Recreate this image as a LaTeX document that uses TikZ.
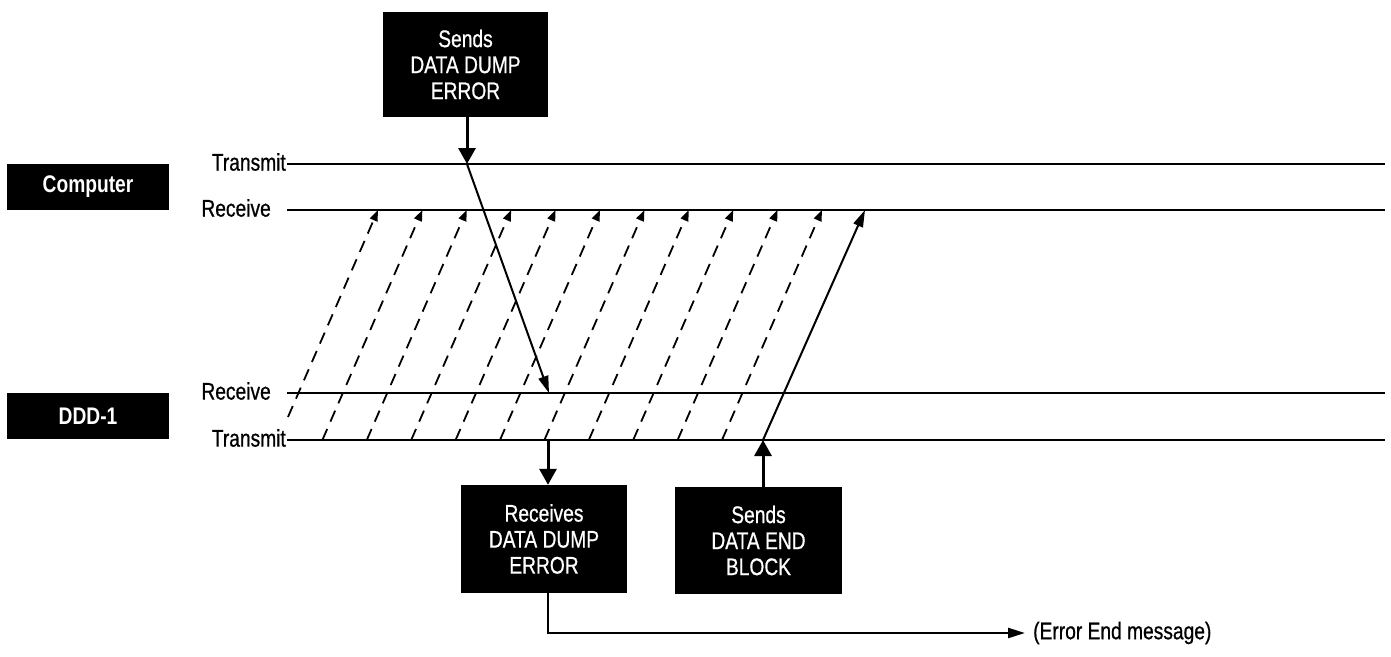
\documentclass[tikz,border=0pt]{standalone}
\usepackage{fontspec}
\setmainfont{Liberation Sans}[FakeStretch=0.8, UprightFeatures={FakeBold=0.7}]
\usetikzlibrary{arrows.meta}
\begin{document}
\begin{tikzpicture}[x=1pt,y=-1pt,
  txt/.style={font=\fontsize{24}{26}\selectfont, inner sep=0pt},
  blackbox/.style={fill=black, text=white, align=center, inner sep=0pt,
    font=\fontsize{24}{26}\selectfont},
  devbox/.style={fill=black, text=white, inner sep=0pt,
    font=\fontsize{24}{26}\selectfont\bfseries, minimum width=162pt, minimum height=46pt},
  hline/.style={line width=2.4pt},
  bigarr/.style={line width=3pt, -{Triangle[length=16pt,width=17pt]}},
  slimarr/.style={line width=2.4pt, -{Triangle[length=17pt,width=10pt]}},
  diagarr/.style={line width=2pt, -{Triangle[length=17pt,width=10pt]}},
  dasharr/.style={line width=1.8pt, dash pattern=on 12pt off 8pt, -{Triangle[length=11pt,width=8pt]}},
]
\useasboundingbox (0,0) rectangle (1391,656);

% line end points
\coordinate (t1L) at (287,164); \coordinate (t1R) at (1385,164);
\coordinate (r1L) at (287,210); \coordinate (r1R) at (1385,210);
\coordinate (r2L) at (287,393); \coordinate (r2R) at (1385,393);
\coordinate (t2L) at (287,440); \coordinate (t2R) at (1385,440);

% device boxes
\node[devbox] (comp) at (88,187) {Computer};
\node[devbox] (ddd) at (88,416) {DDD-1};

% line labels
\node[txt, anchor=east] (lt1) at (286,162) {Transmit};
\node[txt, anchor=east] (lr1) at (271,208) {Receive};
\node[txt, anchor=east] (lr2) at (271,391) {Receive};
\node[txt, anchor=east] (lt2) at (286,438) {Transmit};

% horizontal lines
\draw[hline] (t1L) -- (t1R);
\draw[hline] (r1L) -- (r1R);
\draw[hline] (r2L) -- (r2R);
\draw[hline] (t2L) -- (t2R);

% message boxes
\node[blackbox, minimum width=165pt, minimum height=105pt] (sdde) at (465.5,64.5)
  {Sends\\DATA DUMP\\ERROR};
\node[blackbox, minimum width=166pt, minimum height=108pt] (rdde) at (544,539)
  {Receives\\DATA DUMP\\ERROR};
\node[blackbox, minimum width=167pt, minimum height=107pt] (sdeb) at (758.5,540.5)
  {Sends\\DATA END\\BLOCK};
\node[txt, anchor=west] (errmsg) at (1033,633) {(Error End message)};

% dashed data blocks
\coordinate (db0) at (288,417);
\coordinate (dt0) at (378,210);
\draw[dasharr] (db0) -- (dt0);
\foreach \i in {1,...,10} {
  \coordinate (db\i) at ({278+44.4*\i},440);
  \coordinate (dt\i) at ({378+44.4*\i},210);
  \draw[dasharr] (db\i) -- (dt\i);
}

% connectors
\coordinate (sendpt) at (467,164);
\coordinate (rcvpt) at (549,393);
\coordinate (rcvout) at (548,440);
\coordinate (endpt) at (763,440);
\coordinate (endtop) at (865,210);

\draw[bigarr] (sendpt |- sdde.south) -- (sendpt);
\draw[diagarr] (sendpt) -- (rcvpt);
\draw[bigarr] (rcvout) -- (rcvout |- rdde.north);
\draw[bigarr] (endpt |- sdeb.north) -- (endpt);
\draw[diagarr] (endpt) -- (endtop);
\draw[slimarr] (rcvout |- rdde.south) |- ([xshift=-8pt]errmsg.west);
\end{tikzpicture}
\end{document}
